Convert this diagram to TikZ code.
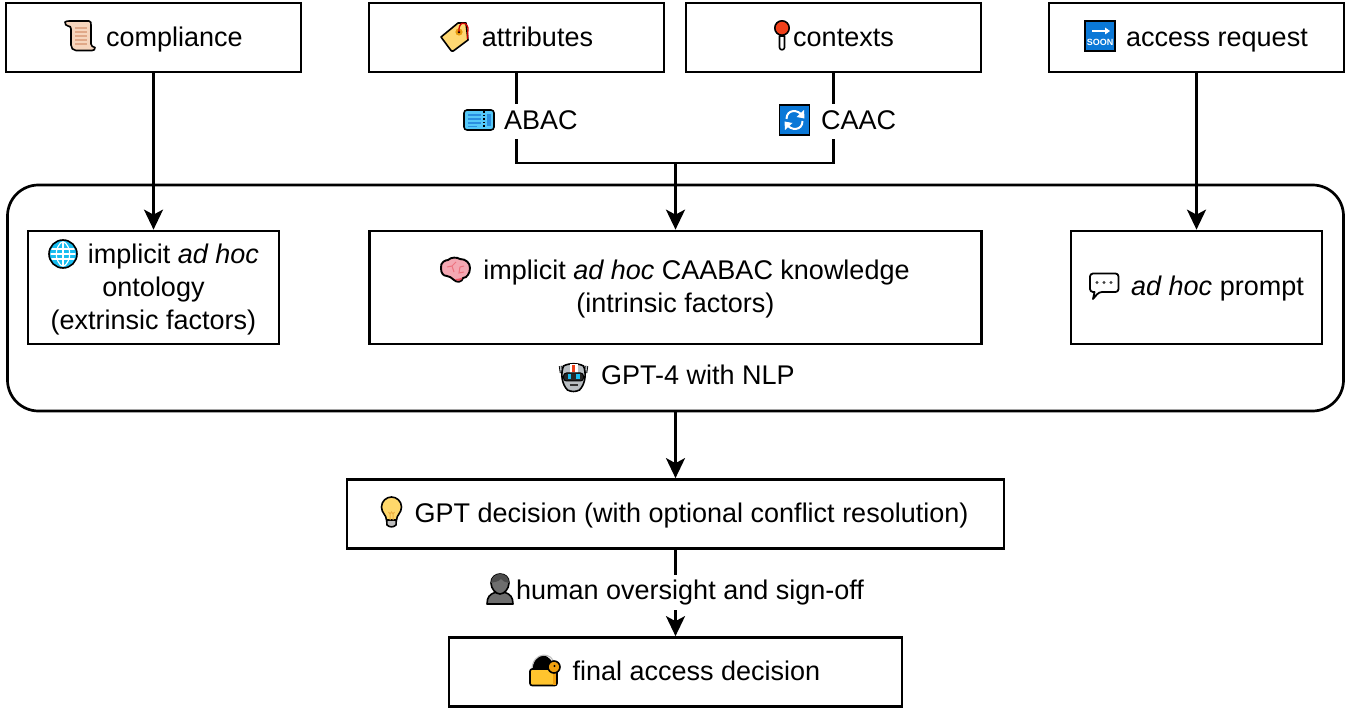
\documentclass[tikz,border=0pt]{standalone}
\usepackage{fontspec}
\setmainfont{Liberation Sans}
\usetikzlibrary{arrows.meta,backgrounds}
\definecolor{scrollc}{HTML}{F6D5BD}
\definecolor{scrolll}{HTML}{E0A888}
\definecolor{tagc}{HTML}{FFD873}
\definecolor{tagh}{HTML}{E89A10}
\definecolor{ticketc}{HTML}{55C8F8}
\definecolor{ticketl}{HTML}{2A8FE0}
\definecolor{pinc}{HTML}{F0401A}
\definecolor{msblue}{HTML}{0A78D7}
\definecolor{globec}{HTML}{18BDF0}
\definecolor{brainc}{HTML}{F4A7B2}
\definecolor{brainl}{HTML}{E8505F}
\definecolor{bulbc}{HTML}{FFD86B}
\definecolor{bulbb}{HTML}{BDBDBD}
\definecolor{personc}{HTML}{6E6E6E}
\definecolor{lockc}{HTML}{FFC42E}
\definecolor{keyc}{HTML}{F0A010}
\definecolor{robotc}{HTML}{B9BEC2}
\tikzset{
  x=1pt,y=-1pt,
  every node/.style={font=\fontsize{27}{33}\selectfont},
  box/.style={draw=black,line width=2.7pt,fill=white,inner sep=0pt,minimum height=#1,align=center},
  box/.default=69pt,
  oneline/.style={text height=23pt,text depth=6pt},
  topline/.style={text height=25pt,text depth=6pt},
  lab/.style={fill=white,inner sep=0pt,text height=25pt,text depth=10pt,anchor=base west},
  conn/.style={draw=black,line width=2.7pt},
  arr/.style={conn,-{Stealth[length=20pt,width=19pt,inset=5pt]}},
  ico/.style={draw=black,line width=1.6pt,line join=round,line cap=round},
  ic scroll/.pic={
    \path[ico,fill=scrollc] (-15,-14) .. controls (-14,-15) and (-12,-15) .. (-10,-15) -- (9,-15) .. controls (11,-15) and (11,-13) .. (11,-11) -- (11,8) .. controls (11,10) and (13,11) .. (15,11.5) .. controls (15,13.5) and (14,14.5) .. (12,14.5) -- (-4,14.5) .. controls (-7,14.5) and (-9,12) .. (-9,9) -- (-9,-7) .. controls (-9,-9) and (-10,-10) .. (-12,-10) .. controls (-14,-10) and (-15,-12) .. (-15,-14) -- cycle;
    \foreach \yy in {-8,-4,0,4,8}{\draw[scrolll,line width=1.1pt] (-5,\yy) -- (7,\yy);}
  },
  ic tag/.pic={
    \path[ico,fill=tagc] (-14,1) -- (3,-13) -- (11,-13) -- (13,4) -- (-1,14.5) .. controls (-2,15.5) and (-3,15.5) .. (-4,14.5) -- cycle;
    \fill[tagh] (4,-4) circle (3.6pt);
    \fill[black] (4,-4) circle (1.4pt);
    \draw[red!80!black,line width=1.3pt] (4,-4) .. controls (3,-14) and (11,-16) .. (13,-8) -- (12.5,3);
  },
  ic ticket/.pic={
    \path[ico,fill=ticketc,rounded corners=3pt] (-15,-10) rectangle (15,10);
    \foreach \yy in {-5,-1,3}{\draw[ticketl,line width=1.5pt] (-11,\yy) -- (2,\yy);}
    \draw[ticketl,line width=1.5pt] (-11,6.5) -- (-2,6.5);
    \draw[black,line width=1.2pt,dash pattern=on 1.6pt off 2pt] (5,-9) -- (5,9);
    \fill[ticketl] (8,-6) rectangle (12,6);
  },
  ic pin/.pic={
    \path[ico,fill=white] (-2.5,0) -- (-2.5,11.5) .. controls (-2.5,14.5) and (2.5,14.5) .. (2.5,11.5) -- (2.5,0) -- cycle;
    \path[ico,fill=pinc] (0,-8) circle (7.2pt);
  },
  ic sync/.pic={
    \path[draw=black,line width=1.4pt,fill=msblue] (-15,-15) rectangle (15,15);
    \draw[white,line width=2pt] (-8,-1) .. controls (-8,-11) and (4,-11) .. (8,-4);
    \fill[white] (9.5,-10) -- (10,-1.5) -- (2,-3) -- cycle;
    \draw[white,line width=2pt] (8,1) .. controls (8,11) and (-4,11) .. (-8,4);
    \fill[white] (-9.5,10) -- (-10,1.5) -- (-2,3) -- cycle;
  },
  ic soon/.pic={
    \path[draw=black,line width=1.4pt,fill=msblue] (-15,-15) rectangle (15,15);
    \draw[white,line width=1.7pt] (-8,-5) -- (7,-5);
    \fill[white] (10,-5) -- (5,-8.5) -- (5,-1.5) -- cycle;
    \node[white,inner sep=0pt,font=\bfseries\fontsize{9}{9}\selectfont] at (0,6) {SOON};
  },
  ic globe/.pic={
    \path[ico,fill=globec] (0,0) circle (14pt);
    \begin{scope}[white,line width=1.2pt]
      \clip (0,0) circle (12.5pt);
      \draw (-14,-5) -- (14,-5) (-14,0) -- (14,0) (-14,5) -- (14,5) (0,-14) -- (0,14);
      \draw (0,-13) .. controls (-9,-7) and (-9,7) .. (0,13);
      \draw (0,-13) .. controls (9,-7) and (9,7) .. (0,13);
    \end{scope}
  },
  ic brain/.pic={
    \path[draw=black,line width=1.9pt,line join=round,fill=brainc] (-14,-2) .. controls (-15,-8) and (-9,-10) .. (-7,-10) .. controls (-4,-13) and (2,-13) .. (5,-11) .. controls (11,-11) and (15,-7) .. (15,-2) .. controls (15,3) and (12,8) .. (8,8) .. controls (7,12) and (2,13) .. (-1,10) .. controls (-4,8) and (-5,6) .. (-8,6) .. controls (-12,6) and (-14,3) .. (-14,-2) -- cycle;
    \draw[brainl!80!white,line width=1pt] (-8,-3) -- (-3,-4) -- (-1,2) (-3,-4) -- (1,-8) (5,-3) -- (9,-4) (5,-3) -- (4,3) -- (9,2);
    \fill[brainl] (7.5,7.8) .. controls (6.5,11) and (2.5,12) .. (0,9.2) .. controls (3,9) and (6,8) .. (7.5,7.8) -- cycle;
  },
  ic speech/.pic={
    \path[draw=black,line width=1.8pt,line join=round,fill=white,rounded corners=3pt] (-14,-12.5) -- (14.5,-12.5) -- (14.5,6) -- (-5,6) [sharp corners] -- (-11,13) -- (-9.5,6) [rounded corners=3pt] -- (-14,6) -- cycle;
    \foreach \xx in {-7,0,7}{\fill[black!75] (\xx,-3.5) circle (1.7pt);}
  },
  ic robot/.pic={
    \draw[black,line width=3.4pt] (-12,-3) -- (-13,-10);
    \draw[black,line width=3.4pt] (12,-3) -- (13,-10);
    \draw[robotc,line width=1.6pt] (-12,-3) -- (-13,-10);
    \draw[robotc,line width=1.6pt] (12,-3) -- (13,-10);
    \path[ico,fill=robotc] (-10,-10) .. controls (-5,-13) and (5,-13) .. (10,-10) .. controls (13,-3) and (12,8) .. (6,14) .. controls (2,16) and (-2,16) .. (-6,14) .. controls (-12,8) and (-13,-3) .. (-10,-10) -- cycle;
    \fill[white] (-4,-12) rectangle (4,-3);
    \fill[pinc] (-1.6,-11) rectangle (1.6,-4);
    \path[draw=black,line width=1pt,fill=black!85,rounded corners=3pt] (-10,-3) rectangle (10,5);
    \fill[globec] (-6,-1.5) rectangle (-2.5,3.5);
    \fill[globec] (2.5,-1.5) rectangle (6,3.5);
    \draw[black!80,line width=1.2pt] (-4,9) -- (4,9);
  },
  ic bulb/.pic={
    \path[ico,fill=bulbb] (-5,5) -- (5,5) -- (4.5,13) .. controls (2,15.5) and (-2,15.5) .. (-4.5,13) -- cycle;
    \path[ico,fill=bulbc] (-5,8) .. controls (-5,3) and (-10,1) .. (-10,-5) .. controls (-10,-11) and (-5,-15) .. (0,-15) .. controls (5,-15) and (10,-11) .. (10,-5) .. controls (10,1) and (5,3) .. (5,8) -- cycle;
    \draw[tagh!80!white,line width=1pt] (-3,0) -- (-1.5,2) -- (0,0) -- (1.5,2) -- (3,0) (-1.5,2) -- (-1.5,8) (1.5,2) -- (1.5,8);
  },
  ic person/.pic={
    \path[ico,fill=personc] (-13,15) .. controls (-13,8) and (-10,5) .. (-5,3.5) -- (5,3.5) .. controls (10,5) and (13,8) .. (13,15) -- cycle;
    \path[ico,fill=personc] (-9,-6) .. controls (-9,-12) and (-4,-15) .. (0,-15) .. controls (5,-15) and (9,-12) .. (9,-6) .. controls (9,0) and (4,5) .. (0,5) .. controls (-4,5) and (-9,0) .. (-9,-6) -- cycle;
    \fill[black!70] (-9,-6) .. controls (-9,-12) and (-4,-15) .. (0,-15) .. controls (5,-15) and (9,-12) .. (9,-6) .. controls (5,-7) and (2,-8) .. (1,-10) .. controls (-2,-7) and (-6,-7) .. (-9,-6) -- cycle;
  },
  ic lock/.pic={
    \path[draw=black,line width=2.4pt,fill=black] (-11.5,0) .. controls (-11.5,-19) and (7.5,-19) .. (7.5,0) -- cycle;
    \draw[bulbb,line width=1.1pt] (-13,-1) .. controls (-13,-20) and (9,-20) .. (9,-6);
    \path[ico,fill=lockc,rounded corners=2.2pt] (-15,-2) rectangle (12,14.5);
    \fill[keyc] (8,-1) rectangle (11,13.5);
    \path[ico,fill=keyc] (9,-4) circle (6pt);
    \fill[black] (9.5,-5) circle (1.2pt);
  },
}
\begin{document}
\begin{tikzpicture}
\useasboundingbox (0,0) rectangle (1352,708);
% boxes
\node[box,minimum width=295pt,topline] (compliance) at (153.5,37.5) {\hspace*{42pt}compliance};
\node[box,minimum width=295pt,topline] (attributes) at (516.5,37.5) {\hspace*{42pt}attributes};
\node[box,minimum width=295pt,topline] (contexts) at (833.5,37.5) {\hspace*{20pt}contexts};
\node[box,minimum width=295pt,topline] (request) at (1196.5,37.5) {\hspace*{41pt}access request};
\node[draw=black,line width=2.7pt,rounded corners=31pt,minimum width=1336pt,minimum height=226pt,inner sep=0pt] (frame) at (675.5,298) {};
\node[box=113pt,minimum width=251pt] (ontology) at (153.5,287.5) {\rule{0pt}{23pt}\hspace*{40pt}implicit \textit{ad hoc}\\ontology\\(extrinsic factors)};
\node[box=113pt,minimum width=612pt] (knowledge) at (675.5,287.5) {\rule{0pt}{23pt}\hspace*{42pt}implicit \textit{ad hoc} CAABAC knowledge\\(intrinsic factors)};
\node[box=113pt,minimum width=251pt,oneline] (prompt) at (1196.5,287.5) {\hspace*{42pt}\textit{ad hoc} prompt};
\node[box,minimum width=657pt,oneline] (decision) at (675.5,514) {\hspace*{32pt}GPT decision (with optional conflict resolution)};
\node[box,minimum width=453pt,oneline] (final) at (675.5,672) {\hspace*{42pt}final access decision};
% labels
\node[lab] (abac) at (504,129.5) {ABAC};
\node[lab] (caac) at (821,129.5) {CAAC};
\node[lab] (human) at (516,599.5) {human oversight and sign-off};
\node[inner sep=0pt,anchor=base west] (gptnlp) at (601,384.5) {GPT-4 with NLP};
\coordinate (junction) at (675.5,163);
% connectors
\begin{scope}[on background layer]
\fill[white] (0,0) rectangle (1352,708);
\draw[arr] (compliance.south) -- (ontology.north);
\draw[conn] (attributes.south) |- (junction);
\draw[conn] (contexts.south) |- (junction);
\draw[arr] (junction) -- (knowledge.north);
\draw[arr] (request.south) -- (prompt.north);
\draw[arr] (frame.south) -- (decision.north);
\draw[arr] (decision.south) -- (final.north);
\end{scope}
% icons
\pic at (80,36) {ic scroll};
\pic at (455,36) {ic tag};
\pic at (479,120) {ic ticket};
\pic at (782,36) {ic pin};
\pic at (794.5,120) {ic sync};
\pic at (1100,36) {ic soon};
\pic at (63,254) {ic globe};
\pic at (455,270) {ic brain};
\pic at (1104,286) {ic speech};
\pic at (573.5,376) {ic robot};
\pic at (391.5,512) {ic bulb};
\pic at (500,589) {ic person};
\pic at (545,671) {ic lock};
\end{tikzpicture}
\end{document}
